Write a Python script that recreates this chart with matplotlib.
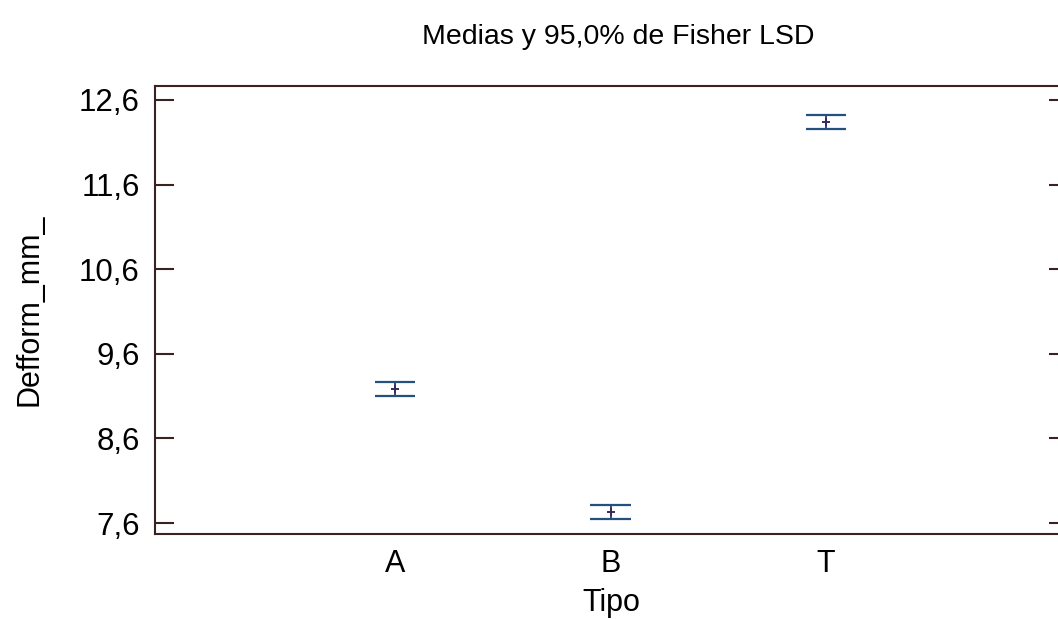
import matplotlib
matplotlib.use("Agg")
import matplotlib.pyplot as plt

categories = ["A", "B", "T"]
means = [9.184, 7.73, 12.34]
half_lsd = [0.082, 0.082, 0.080]
yticks = [7.6, 8.6, 9.6, 10.6, 11.6, 12.6]
ytick_labels = ["7,6", "8,6", "9,6", "10,6", "11,6", "12,6"]

plt.rcParams['font.family'] = ['Liberation Sans', 'DejaVu Sans']

fig = plt.figure(figsize=(10.58, 6.19), dpi=100)
ax = fig.add_axes([155/1058, 1-534/619, (1068-155)/1058, (534-86)/619])

xpos = [1, 2, 3]
line_col = '#24507e'
spine_col = '#3a2222'
cap = 0.093
for x, m, h in zip(xpos, means, half_lsd):
    ax.hlines([m - h, m + h], x - cap, x + cap, color=line_col, lw=1.6)
    ax.vlines(x, m - h, m + h, color=line_col, lw=1.4)
    ax.plot([x], [m], marker='+', ms=6, mew=1.4, color='#3a2a5a')

ax.set_xlim(-0.114, 4.123)
ax.set_ylim(7.47, 12.765)
ax.set_xticks(xpos)
ax.set_xticklabels(categories)
ax.set_yticks(yticks)
ax.set_yticklabels(ytick_labels)
ax.tick_params(axis='y', direction='in', length=14, width=1.5, color=spine_col,
               labelsize=22.5, pad=11, right=True)
ax.tick_params(axis='x', length=0, labelsize=22, pad=11)
for s in ax.spines.values():
    s.set_color(spine_col)
    s.set_linewidth(1.5)

ax.set_xlabel("Tipo", fontsize=22, labelpad=6)
ax.set_ylabel("Defform_mm_", fontsize=22, labelpad=25)
fig.text(618/1058, 1-37/619, "Medias y 95,0% de Fisher LSD", fontsize=20.5,
         ha='center', va='center')

fig.savefig("out.png", dpi=100)
